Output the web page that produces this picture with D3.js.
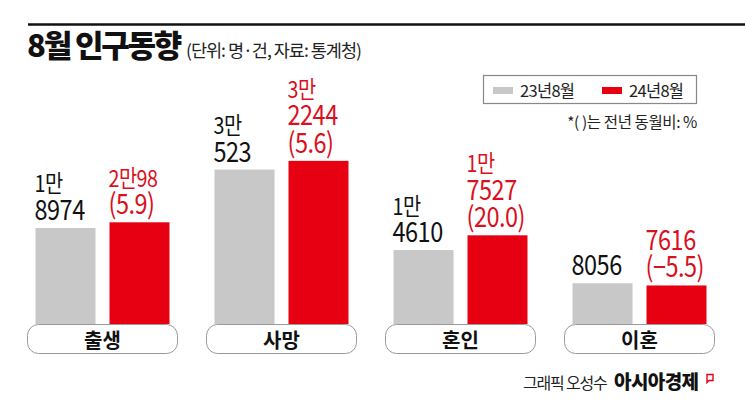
<!DOCTYPE html>
<html><head><meta charset="utf-8">
<script src="https://cdn.jsdelivr.net/npm/d3@7"></script>
<style>
html,body{margin:0;padding:0;background:#fff;}
svg{display:block;}
text{font-family:"Noto Sans CJK KR","Noto Sans",sans-serif;white-space:pre;}
</style></head>
<body><svg id="c" width="745" height="406"></svg>
<script>
const categories = ['출생','사망','혼인','이혼'];
const series = ['23년8월','24년8월'];
const values2023 = [18974, 30523, 14610, 8056];
const values2024 = [20098, 32244, 17527, 7616];
const changes = [5.9, 5.6, 20.0, -5.5];

const W = 745, H = 406;
const GREY = '#c8c8c8', RED = '#e60012', RED_TXT = '#d9101d';
const svg = d3.select('#c');

// top rule
svg.append('line').attr('x1',28).attr('x2',W).attr('y1',24.5).attr('y2',24.5)
  .attr('stroke','#111').attr('stroke-width',2.5);

// title
svg.append('text').attr('x',27).attr('y',57).attr('font-size',31).attr('font-weight',900)
  .attr('letter-spacing',-2.2).attr('fill','#111').text('8월 인구동향');
svg.append('text').attr('x',186).attr('y',57).attr('font-size',17.5)
  .attr('letter-spacing',-1).attr('fill','#222').text('(단위: 명·건, 자료: 통계청)');

// legend
svg.append('rect').attr('x',483.5).attr('y',75.5).attr('width',213).attr('height',28)
  .attr('fill','none').attr('stroke','#888').attr('stroke-width',1.2);
const legX = [493, 602];
series.forEach((s,i)=>{
  svg.append('rect').attr('x',legX[i]).attr('y',87).attr('width',20).attr('height',7)
    .attr('fill', i===0?GREY:RED);
  svg.append('text').attr('x',legX[i]+27).attr('y',97).attr('font-size',16.5)
    .attr('letter-spacing',-0.7).attr('fill','#222').text(s);
});
svg.append('text').attr('x',697).attr('y',128).attr('text-anchor','end').attr('font-size',15.5)
  .attr('letter-spacing',-0.4).attr('fill','#222').text('*( )는 전년 동월비: %');

// scales
const x0 = d3.scaleBand().domain(categories).range([27, 715]).paddingInner(28/179).paddingOuter(0);
const x1 = d3.scaleBand().domain(series).range([0, x0.bandwidth()]).paddingInner(14/74).paddingOuter(0.115);
const y = d3.scaleLinear().domain([0, 40000]).range([324, 324 - 202.4]);

function koLines(v){
  const man = Math.floor(v/10000), rest = v % 10000;
  if (man === 0) return [{t:String(rest), small:false}];
  if (rest < 100) return [{t:man+'만'+rest, small:true}];
  return [{t:man+'만', small:true},{t:String(rest), small:false}];
}
function fmtChange(c){ return '(' + (c<0?'−':'') + Math.abs(c).toFixed(1) + ')'; }

const data = [];
categories.forEach((c,i)=>{
  data.push({cat:c, s:series[0], v:values2023[i], lines:koLines(values2023[i]), color:GREY, tcol:'#111'});
  data.push({cat:c, s:series[1], v:values2024[i], lines:koLines(values2024[i]).concat([{t:fmtChange(changes[i]), small:false}]), color:RED, tcol:RED_TXT});
});

// bars
svg.append('g').selectAll('rect').data(data).join('rect')
  .attr('x', d=>x0(d.cat)+x1(d.s)).attr('width', x1.bandwidth())
  .attr('y', d=>y(d.v)).attr('height', d=>y(0)-y(d.v)).attr('fill', d=>d.color);

// labels
data.forEach(d=>{
  const bx = x0(d.cat)+x1(d.s);
  const top = y(d.v);
  const n = d.lines.length;
  d.lines.forEach((ln,j)=>{
    const base = top - 8 - (n-1-j)*27.5;
    svg.append('text')
      .attr('transform', `translate(${bx-1},${base}) scale(0.84,1)`)
      .attr('font-size', ln.small?23.5:28).attr('font-weight',400).attr('fill', d.tcol)
      .attr('letter-spacing', -0.6).text(ln.t);
  });
});

// category pills
const pills = svg.append('g').selectAll('g').data(categories).join('g');
pills.append('rect').attr('x', d=>x0(d)+0.5).attr('y',324.5).attr('width', x0.bandwidth()-1).attr('height',29)
  .attr('rx',11).attr('fill','#fff').attr('stroke','#9a9a9a').attr('stroke-width',1);
pills.append('text').attr('x', d=>x0(d)+x0.bandwidth()/2).attr('y',347.5).attr('text-anchor','middle')
  .attr('font-size',20).attr('font-weight',700).attr('fill','#111').text(d=>d);

// footer
svg.append('text').attr('x',523).attr('y',389).attr('font-size',16).attr('letter-spacing',-1.2)
  .attr('fill','#222').text('그래픽 오성수');
svg.append('text').attr('x',614).attr('y',389).attr('font-size',19).attr('font-weight',900)
  .attr('letter-spacing',-0.6).attr('fill','#111').text('아시아경제');
svg.append('path').attr('d','M707,374.5 h6 v6 h-4 l-2,2 z').attr('fill','none')
  .attr('stroke',RED).attr('stroke-width',1.4);
</script></body></html>
